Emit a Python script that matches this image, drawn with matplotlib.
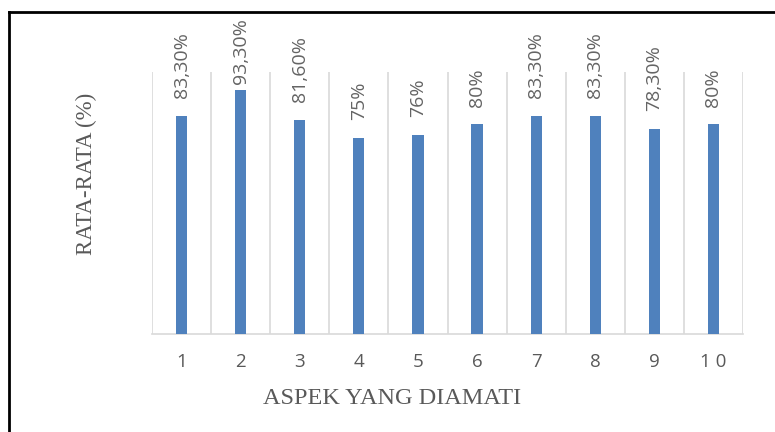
import matplotlib.pyplot as plt
from matplotlib.lines import Line2D
import numpy as np

# data
aspek = ['1', '2', '3', '4', '5', '6', '7', '8', '9', '1 0']
nilai = [83.3, 93.3, 81.6, 75, 76, 80, 83.3, 83.3, 78.3, 80]
label = ['83,30%', '93,30%', '81,60%', '75%', '76%', '80%', '83,30%', '83,30%', '78,30%', '80%']

W, H = 775, 432
fig = plt.figure(figsize=(W/100, H/100), dpi=100)
ax = fig.add_axes([152/W, 1-334/H, (743-152)/W, (334-72)/H])

x = np.arange(len(aspek))
ax.bar(x, nilai, width=0.19, color='#4F81BD', zorder=3)

# vertical separators between categories
for b in np.arange(-0.5, len(aspek), 1.0):
    ax.axvline(b, color='#D9D9D9', lw=1.2, zorder=1)

# labels sit above bars but get pushed down if they'd leave the chart area
for xi, v, t in zip(x, nilai, label):
    ax.text(xi, min(v + 6.8, 95.5), t, rotation=90, ha='center', va='bottom',
            fontsize=14, color='#646464', family='Open Sans', clip_on=False)

ax.set_xlim(-0.5, len(aspek) - 0.5)
ax.set_ylim(0, 100)
ax.set_yticks([])
ax.set_xticks(x)
ax.set_xticklabels(aspek, fontsize=13.5, color='#595959', family='Open Sans')
ax.tick_params(axis='x', length=0, pad=14)
for s in ['top', 'right', 'left']:
    ax.spines[s].set_visible(False)
ax.spines['bottom'].set_color('#D9D9D9')
ax.spines['bottom'].set_linewidth(1.2)

ax.set_xlabel('ASPEK YANG DIAMATI', family='Liberation Serif', fontsize=17.5,
              color='#595959')
ax.xaxis.set_label_coords(0.406, -0.205)
ax.set_ylabel('RATA-RATA (%)', family='Liberation Serif', fontsize=16.5,
              color='#595959')
ax.yaxis.set_label_coords(-0.093, 0.61)

# frame around the chart (top and left edges visible)
fig.add_artist(Line2D([9/W, 9/W], [0, 1-12/H], color='black', lw=2))
fig.add_artist(Line2D([9/W, 1], [1-12/H, 1-12/H], color='black', lw=2))

fig.savefig('out.png', dpi=100)
